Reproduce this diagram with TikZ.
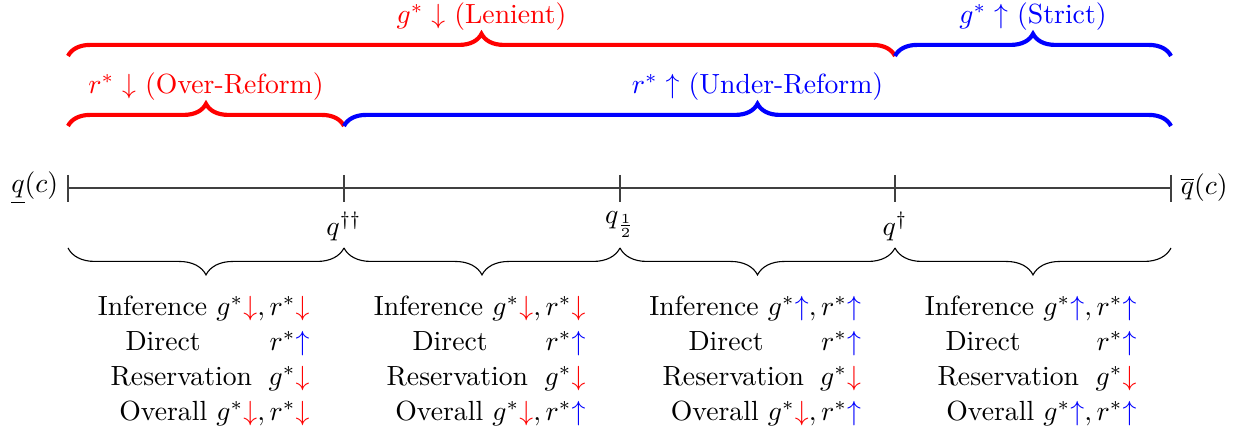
\documentclass[tikz,border=0pt]{standalone}
\usetikzlibrary{decorations.pathreplacing}
\newcommand{\rdn}{{\color{red}\downarrow}}
\newcommand{\bup}{{\color{blue}\uparrow}}
\newcommand{\rowblock}[9]{%
  \node[rowtxt, anchor=base east] (#1inf) at (#2+104,316) {Inference #6};
  \node[rowtxt, anchor=base west] (#1dirw) at (#3,351) {Direct};
  \node[rowtxt, anchor=base east] (#1dirm) at (#2+104,351) {#7};
  \node[rowtxt, anchor=base west] (#1resw) at (#4,386) {Reservation};
  \node[rowtxt, anchor=base east] (#1resm) at (#2+104,386) {#8};
  \node[rowtxt, anchor=base east] (#1ovr) at (#2+104,421) {Overall #9};
}
\begin{document}
\begin{tikzpicture}[x=0.0126812cm,y=-0.0126812cm,
  axis/.style={draw=black!75, line width=0.4pt},
  bigbrace/.style={decorate, decoration={brace, amplitude=8pt}, line width=1.5pt},
  smallbrace/.style={decorate, decoration={brace, mirror, amplitude=9.7pt}, line width=0.4pt},
  toplabel/.style={anchor=base, inner sep=0pt},
  rowtxt/.style={inner sep=0pt}]
\path[use as bounding box] (0,0) rectangle (1245,434);

% axis
\coordinate (L) at (68,188);
\coordinate (R) at (1171,188);
\draw[axis] (L) -- (R);
\coordinate (t0a) at (68,175);   \coordinate (t0b) at (68,202);
\coordinate (t1a) at (344,175);  \coordinate (t1b) at (344,202);
\coordinate (t2a) at (620,175);  \coordinate (t2b) at (620,202);
\coordinate (t3a) at (895,175);  \coordinate (t3b) at (895,202);
\coordinate (t4a) at (1171,175); \coordinate (t4b) at (1171,202);
\draw[axis] (t0a) -- (t0b);
\draw[axis] (t1a) -- (t1b);
\draw[axis] (t2a) -- (t2b);
\draw[axis] (t3a) -- (t3b);
\draw[axis] (t4a) -- (t4b);
\node[below] (qdd) at (t1b) {$q^{\dagger\dagger}$};
\node[below] (qhalf) at (t2b) {$q_{\frac{1}{2}}$};
\node[below] (qd) at (t3b) {$q^{\dagger}$};
\node[left] (qlow) at (L) {$\underline{q}(c)$};
\node[right] (qhigh) at (R) {$\overline{q}(c)$};

% upper braces
\coordinate (g0) at (68,56);
\coordinate (g1) at (895,56);
\coordinate (g2) at (1171,56);
\coordinate (r0) at (68,126);
\coordinate (r1) at (344,126);
\coordinate (r2) at (1171,126);
\draw[bigbrace, red] (g0) -- (g1);
\draw[bigbrace, blue] (g1) -- (g2);
\draw[bigbrace, red] (r0) -- (r1);
\draw[bigbrace, blue] (r1) -- (r2);
\node[toplabel, red] (lenient) at (481.5,24) {$g^*\downarrow$ (Lenient)};
\node[toplabel, blue] (strict) at (1033,24) {$g^*\uparrow$ (Strict)};
\node[toplabel, red] (over) at (206,94) {$r^*\downarrow$ (Over-Reform)};
\node[toplabel, blue] (under) at (757.5,94) {$r^*\uparrow$ (Under-Reform)};

% lower braces
\coordinate (b0) at (68,248);
\coordinate (b1) at (344,248);
\coordinate (b2) at (620,248);
\coordinate (b3) at (895,248);
\coordinate (b4) at (1171,248);
\draw[smallbrace] (b0) -- (b1);
\draw[smallbrace] (b1) -- (b2);
\draw[smallbrace] (b2) -- (b3);
\draw[smallbrace] (b3) -- (b4);

% blocks
\rowblock{bA}{206}{125}{110}{}{$g^*\rdn, r^*\rdn$}{$r^*\bup$}{$g^*\rdn$}{$g^*\rdn, r^*\rdn$}
\rowblock{bB}{482}{412}{386}{}{$g^*\rdn, r^*\rdn$}{$r^*\bup$}{$g^*\rdn$}{$g^*\rdn, r^*\bup$}
\rowblock{bC}{757.5}{688}{662}{}{$g^*\bup, r^*\bup$}{$r^*\bup$}{$g^*\rdn$}{$g^*\rdn, r^*\bup$}
\rowblock{bD}{1033}{945}{937}{}{$g^*\bup, r^*\bup$}{$r^*\bup$}{$g^*\rdn$}{$g^*\bup, r^*\bup$}
\end{tikzpicture}
\end{document}
